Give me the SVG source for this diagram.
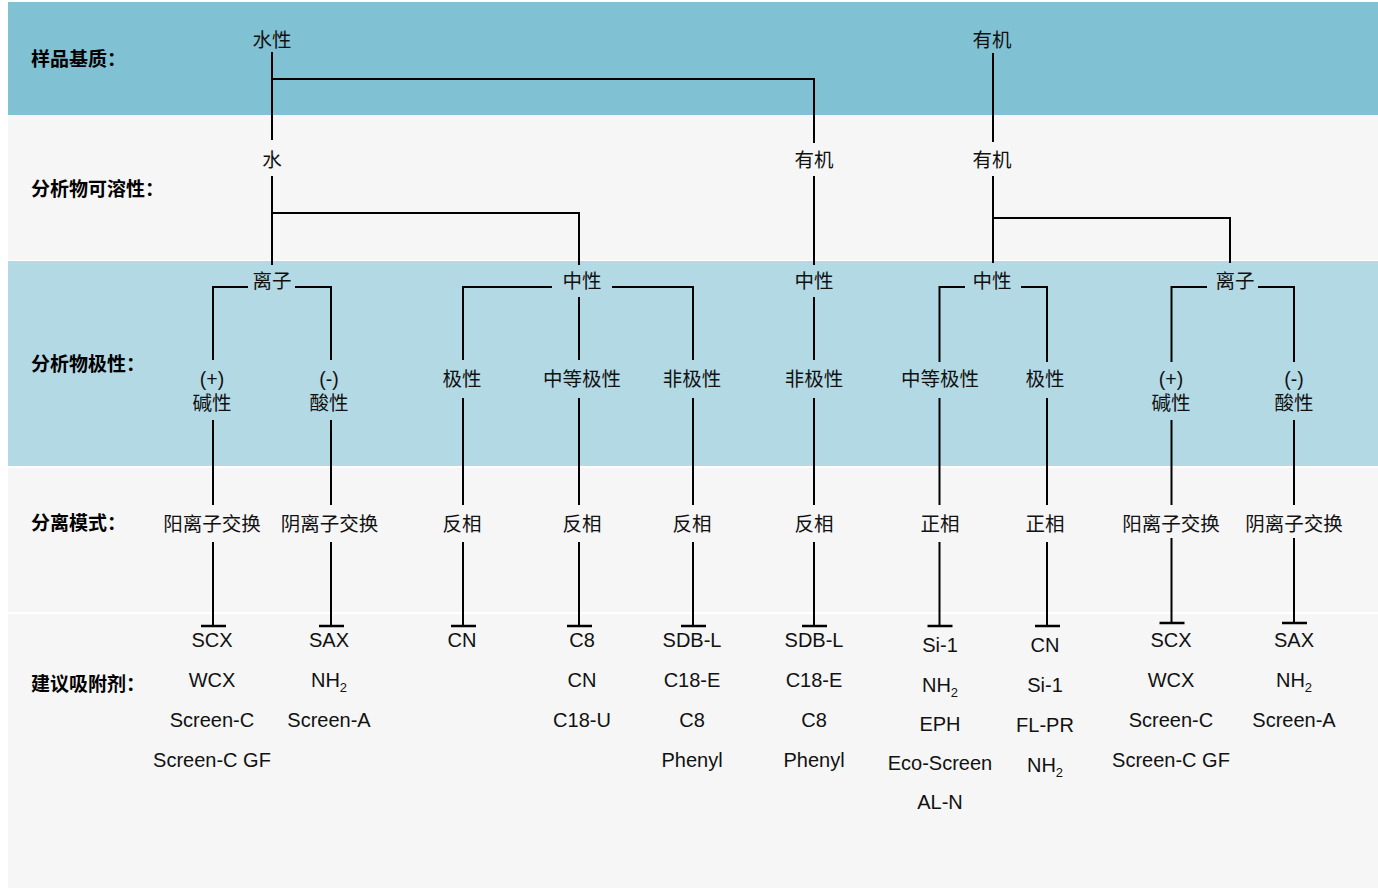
<svg xmlns="http://www.w3.org/2000/svg" width="1378" height="888" viewBox="0 0 1378 888">
<defs>
<style>
.bg{fill:#ffffff}
.dark{fill:#80c1d3}
.light{fill:#b3d9e4}
.grey{fill:#f6f6f6}
.hdr{font-family:"Liberation Sans","Noto Sans CJK SC",sans-serif;font-weight:bold;font-size:19px;fill:#000}
.t{font-family:"Liberation Sans","Noto Sans CJK SC",sans-serif;font-size:19.5px;fill:#111;text-anchor:middle}
.s{font-family:"Liberation Sans","Noto Sans CJK SC",sans-serif;font-size:20px;fill:#111;text-anchor:middle}
.sub{font-size:13px}
.ln{fill:none;stroke:#000;stroke-width:2;stroke-linejoin:miter;stroke-linecap:butt}
.bar{stroke:#000;stroke-width:2.5}
</style>
</defs>
<rect class="bg" x="0" y="0" width="1378" height="888"/>
<g id="bands">
<rect class="dark" x="8" y="2" width="1370" height="113"/>
<rect class="grey" x="8" y="115" width="1370" height="145"/>
<rect class="light" x="8" y="261" width="1370" height="205"/>
<rect class="grey" x="8" y="468" width="1370" height="144"/>
<rect class="grey" x="8" y="614" width="1370" height="274"/>
</g>
<g id="row-labels">
<text class="hdr" x="31" y="66">样品基质：</text>
<text class="hdr" x="31" y="196">分析物可溶性：</text>
<text class="hdr" x="31" y="371">分析物极性：</text>
<text class="hdr" x="31" y="530">分离模式：</text>
<text class="hdr" x="31" y="691">建议吸附剂：</text>
</g>
<g id="connectors">
<path class="ln" d="M272 52V140M272 79H814V143"/>
<path class="ln" d="M993 53V142"/>
<path class="ln" d="M272 176V265M272 213H579V265"/>
<path class="ln" d="M814 176V265"/>
<path class="ln" d="M993 176V263M993 218H1230V263"/>
<path class="ln" d="M248 287H213V360M295 287H331V360"/>
<path class="ln" d="M552 287H463V360M612 287H693V360M579 297V360"/>
<path class="ln" d="M814 297V360"/>
<path class="ln" d="M965 287H939.5V362M1021 287H1047V362"/>
<path class="ln" d="M1207 287H1171.5V362M1258 287H1294V362"/>
<path class="ln" d="M213 420V505M331 420V505M463 398V505M579 398V505M693 398V505M814 398V505M939.5 398V505M1047 398V505M1171.5 420V505M1294 420V505"/>
<path class="ln" d="M213 542V626M331 542V626M463 542V626M579 542V626M693 542V626M814 542V626M939.5 542V626M1047 542V626M1171.5 538V623M1294 538V623"/>
<path class="bar" d="M201 626H226M319 626H344M451 626H476M567 626H592M681 626H706M802 626H827M927.5 626H952.5M1035 626H1060M1159.5 623H1184.5M1282 623H1307"/>
</g>
<g id="n-shuixing"><text class="t" x="272" y="47">水性</text></g>
<g id="n-youji-top"><text class="t" x="992" y="47">有机</text></g>
<g id="n-shui"><text class="t" x="272" y="167">水</text></g>
<g id="n-youji-2a"><text class="t" x="814" y="167">有机</text></g>
<g id="n-youji-2b"><text class="t" x="992" y="167">有机</text></g>
<g id="n-lizi-1"><text class="t" x="272" y="288">离子</text></g>
<g id="n-zhongxing-1"><text class="t" x="582" y="288">中性</text></g>
<g id="n-zhongxing-2"><text class="t" x="814" y="288">中性</text></g>
<g id="n-zhongxing-3"><text class="t" x="992" y="288">中性</text></g>
<g id="n-lizi-2"><text class="t" x="1235" y="288">离子</text></g>
<g id="n-p1"><text class="t" x="212" y="386">(+)</text><text class="t" x="212" y="410">碱性</text></g>
<g id="n-p2"><text class="t" x="329" y="386">(-)</text><text class="t" x="329" y="410">酸性</text></g>
<g id="n-p3"><text class="t" x="462" y="386">极性</text></g>
<g id="n-p4"><text class="t" x="582" y="386">中等极性</text></g>
<g id="n-p5"><text class="t" x="692" y="386">非极性</text></g>
<g id="n-p6"><text class="t" x="814" y="386">非极性</text></g>
<g id="n-p7"><text class="t" x="940" y="386">中等极性</text></g>
<g id="n-p8"><text class="t" x="1045" y="386">极性</text></g>
<g id="n-p9"><text class="t" x="1171" y="386">(+)</text><text class="t" x="1171" y="410">碱性</text></g>
<g id="n-p10"><text class="t" x="1294" y="386">(-)</text><text class="t" x="1294" y="410">酸性</text></g>
<g id="n-m1"><text class="t" x="212" y="531">阳离子交换</text></g>
<g id="n-m2"><text class="t" x="329.5" y="531">阴离子交换</text></g>
<g id="n-m3"><text class="t" x="462" y="531">反相</text></g>
<g id="n-m4"><text class="t" x="582" y="531">反相</text></g>
<g id="n-m5"><text class="t" x="692" y="531">反相</text></g>
<g id="n-m6"><text class="t" x="814" y="531">反相</text></g>
<g id="n-m7"><text class="t" x="940" y="531">正相</text></g>
<g id="n-m8"><text class="t" x="1045" y="531">正相</text></g>
<g id="n-m9"><text class="t" x="1171" y="531">阳离子交换</text></g>
<g id="n-m10"><text class="t" x="1294" y="531">阴离子交换</text></g>
<g id="n-s1"><text class="s" x="212" y="647">SCX</text><text class="s" x="212" y="687">WCX</text><text class="s" x="212" y="727">Screen-C</text><text class="s" x="212" y="767">Screen-C GF</text></g>
<g id="n-s2"><text class="s" x="329" y="647">SAX</text><text class="s" x="329" y="687">NH<tspan class="sub" dy="5">2</tspan></text><text class="s" x="329" y="727">Screen-A</text></g>
<g id="n-s3"><text class="s" x="462" y="647">CN</text></g>
<g id="n-s4"><text class="s" x="582" y="647">C8</text><text class="s" x="582" y="687">CN</text><text class="s" x="582" y="727">C18-U</text></g>
<g id="n-s5"><text class="s" x="692" y="647">SDB-L</text><text class="s" x="692" y="687">C18-E</text><text class="s" x="692" y="727">C8</text><text class="s" x="692" y="767">Phenyl</text></g>
<g id="n-s6"><text class="s" x="814" y="647">SDB-L</text><text class="s" x="814" y="687">C18-E</text><text class="s" x="814" y="727">C8</text><text class="s" x="814" y="767">Phenyl</text></g>
<g id="n-s7"><text class="s" x="940" y="652">Si-1</text><text class="s" x="940" y="692">NH<tspan class="sub" dy="5">2</tspan></text><text class="s" x="940" y="731">EPH</text><text class="s" x="940" y="770">Eco-Screen</text><text class="s" x="940" y="809">AL-N</text></g>
<g id="n-s8"><text class="s" x="1045" y="652">CN</text><text class="s" x="1045" y="692">Si-1</text><text class="s" x="1045" y="732">FL-PR</text><text class="s" x="1045" y="772">NH<tspan class="sub" dy="5">2</tspan></text></g>
<g id="n-s9"><text class="s" x="1171" y="647">SCX</text><text class="s" x="1171" y="687">WCX</text><text class="s" x="1171" y="727">Screen-C</text><text class="s" x="1171" y="767">Screen-C GF</text></g>
<g id="n-s10"><text class="s" x="1294" y="647">SAX</text><text class="s" x="1294" y="687">NH<tspan class="sub" dy="5">2</tspan></text><text class="s" x="1294" y="727">Screen-A</text></g>
</svg>
